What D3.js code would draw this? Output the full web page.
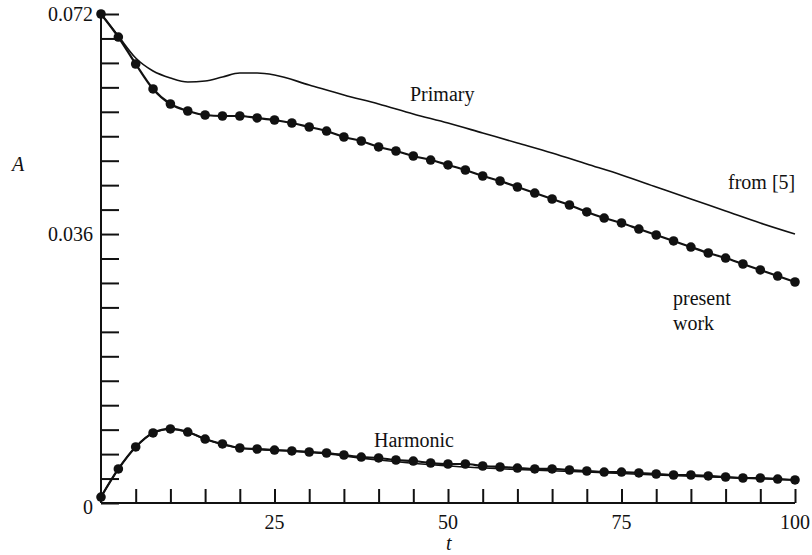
<!DOCTYPE html>
<html>
<head>
<meta charset="utf-8">
<script src="https://cdn.jsdelivr.net/npm/d3@7"></script>
<style>
  body { margin: 0; background: #fff; }
  text { font-family: "Liberation Serif", "Times New Roman", "DejaVu Serif", serif; fill: #111; }
</style>
</head>
<body>
<div class="chart"></div>
<script>
var svgWidth = 812;
var svgHeight = 555;

// time steps of the computed points (every 2.5)
var tSteps = d3.range(0, 100.01, 2.5);

// present work, primary amplitude
var primaryWork = [0.0720, 0.06861, 0.06464, 0.06096, 0.05875, 0.05772, 0.05713, 0.05698, 0.05698,
  0.05669, 0.05639, 0.05595, 0.05536, 0.05477, 0.05389, 0.05330, 0.05242, 0.05183, 0.05109,
  0.05050, 0.04977, 0.04903, 0.04815, 0.04741, 0.04653, 0.04564, 0.04476, 0.04388, 0.04285,
  0.04196, 0.04123, 0.04034, 0.03946, 0.03858, 0.03769, 0.03681, 0.03607, 0.03519, 0.03431,
  0.03342, 0.03254];

// present work, harmonic amplitude
var harmonicWork = [0.00088, 0.00501, 0.00825, 0.01031, 0.01090, 0.01045, 0.00942, 0.00869, 0.00810,
  0.00795, 0.00780, 0.00766, 0.00751, 0.00736, 0.00707, 0.00677, 0.00663, 0.00633, 0.00618,
  0.00589, 0.00574, 0.00574, 0.00545, 0.00530, 0.00515, 0.00501, 0.00501, 0.00486, 0.00471,
  0.00456, 0.00456, 0.00442, 0.00427, 0.00412, 0.00412, 0.00398, 0.00383, 0.00368, 0.00368,
  0.00353, 0.00339];

// reference [5], primary
var refPrimaryT = [0, 2.5, 5, 7.5, 10, 12.5, 15, 17.5, 20, 22.5, 25, 30, 35, 40, 45, 50, 55, 60, 65, 70, 75, 80, 85, 90, 95, 100];
var refPrimary = [0.0720, 0.06876, 0.06552, 0.06361, 0.06258, 0.06199, 0.06214, 0.06272, 0.06331,
  0.06331, 0.06302, 0.06155, 0.06007, 0.05875, 0.05728, 0.05595, 0.05448, 0.05301, 0.05153,
  0.04991, 0.04830, 0.04653, 0.04476, 0.04300, 0.04123, 0.03961];

// reference [5], harmonic
var refHarmonicT = [0, 2.5, 5, 7.5, 10, 12.5, 15, 20, 30, 40, 50, 60, 70, 80, 90, 100];
var refHarmonic = [0.00088, 0.00501, 0.00825, 0.01031, 0.01090, 0.01045, 0.00942, 0.00810, 0.00751,
  0.00633, 0.00545, 0.00493, 0.00456, 0.00412, 0.00375, 0.00339];

// y tick labels and the minor tick they sit on in the original (counted from the top)
var yTickLabels = ["0.072", "0.036", "0"];
var yTickLabelIndex = [0, 9, 20];
var xTickLabels = ["25", "50", "75", "100"];

var svg = d3.select(".chart")
  .append("svg")
  .attr("width", svgWidth)
  .attr("height", svgHeight);

var x = d3.scaleLinear().domain([0, 100]).range([101, 795]);
var y = d3.scaleLinear().domain([0, 0.072]).range([503, 14]);
var yStep = 0.0036;

// axes: ticks point inward, drawn by d3 then restyled
var yAxis = svg.append("g")
  .attr("transform", "translate(" + x(0) + ",0)")
  .call(d3.axisRight(y).tickValues(d3.range(0, 0.0721, yStep)).tickSize(18).tickFormat(""));

var xAxis = svg.append("g")
  .attr("transform", "translate(0," + y(0) + ")")
  .call(d3.axisTop(x).tickValues(d3.range(5, 100.01, 5)).tickSize(14).tickFormat(""));

svg.selectAll(".domain").attr("stroke", "#111").attr("stroke-width", 2);
svg.selectAll(".tick line").attr("stroke", "#111").attr("stroke-width", 2);
yAxis.select(".domain").attr("d", "M0," + y(0) + "V" + y(0.072));
xAxis.select(".domain").attr("d", "M" + x(0) + ",0H" + x(100));

// tick labels
svg.selectAll(".ylab")
  .data(yTickLabels)
  .enter()
  .append("text")
  .attr("x", 93)
  .attr("y", (d, i) => y(0.072 - yTickLabelIndex[i] * yStep) + (i === 2 ? 11 : 7))
  .attr("text-anchor", "end")
  .style("font-size", "20px")
  .text(d => d);

svg.selectAll(".xlab")
  .data(xTickLabels)
  .enter()
  .append("text")
  .attr("x", d => x(+d))
  .attr("y", 529)
  .attr("text-anchor", "middle")
  .style("font-size", "20px")
  .text(d => d);

svg.append("text").attr("x", 12).attr("y", 171)
  .style("font-size", "20px").style("font-style", "italic").text("A");
svg.append("text").attr("x", 446).attr("y", 550)
  .style("font-size", "20px").style("font-style", "italic").text("t");

var line = d3.line()
  .x(d => x(d[0]))
  .y(d => y(d[1]))
  .curve(d3.curveMonotoneX);

// reference curves
svg.append("path")
  .datum(refPrimaryT.map((t, i) => [t, refPrimary[i]]))
  .attr("d", line)
  .attr("fill", "none").attr("stroke", "#111").attr("stroke-width", 1.6);

svg.append("path")
  .datum(refHarmonicT.map((t, i) => [t, refHarmonic[i]]))
  .attr("d", line)
  .attr("fill", "none").attr("stroke", "#111").attr("stroke-width", 1.6);

// present work curves with markers
[primaryWork, harmonicWork].forEach(function(series) {
  var pts = tSteps.map((t, i) => [t, series[i]]);
  svg.append("path")
    .datum(pts)
    .attr("d", line)
    .attr("fill", "none").attr("stroke", "#111").attr("stroke-width", 2.2);
  svg.append("g").selectAll("circle")
    .data(pts)
    .enter()
    .append("circle")
    .attr("cx", d => x(d[0]))
    .attr("cy", d => y(d[1]))
    .attr("r", 4.8)
    .attr("fill", "#111");
});

// curve labels
var labels = [
  { text: "Primary", x: 410, y: 101 },
  { text: "from [5]", x: 728, y: 189 },
  { text: "present", x: 673, y: 305 },
  { text: "work", x: 673, y: 330 },
  { text: "Harmonic", x: 374, y: 447 }
];
svg.selectAll(".clab")
  .data(labels)
  .enter()
  .append("text")
  .attr("x", d => d.x)
  .attr("y", d => d.y)
  .style("font-size", "20px")
  .text(d => d.text);
</script>
</body>
</html>
